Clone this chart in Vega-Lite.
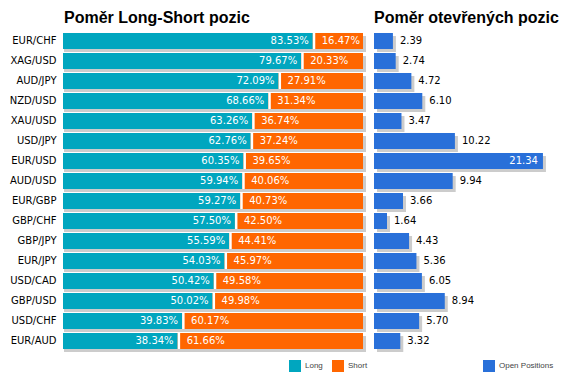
{
  "$schema": "https://vega.github.io/schema/vega-lite/v6.json",
  "padding": {"left": 9, "top": 10, "right": 0, "bottom": 0},
  "bounds": "flush",
  "spacing": 11,
  "background": "white",
  "config": {
    "view": {"stroke": null},
    "font": "DejaVu Sans",
    "title": {"anchor": "start", "frame": "group", "fontSize": 16, "font": "Liberation Sans", "fontWeight": "bold", "color": "#000000", "offset": 5},
    "axis": {"title": null, "ticks": false, "domain": false, "grid": false, "labelFontSize": 10, "labelColor": "#000000", "labelPadding": 8, "labelFont": "DejaVu Sans"},
    "legend": {"title": null, "orient": "none", "direction": "horizontal", "symbolType": "square", "symbolSize": 144, "symbolStrokeWidth": 0, "symbolOpacity": 1, "labelFontSize": 8, "labelFont": "Liberation Sans", "labelColor": "#444444", "labelOffset": 4, "columnPadding": 9, "padding": 0}
  },
  "data": {"values": [
    {"pair": "EUR/CHF", "long": 0.8353, "short": 0.1647, "open": 2.39},
    {"pair": "XAG/USD", "long": 0.7967, "short": 0.2033, "open": 2.74},
    {"pair": "AUD/JPY", "long": 0.7209, "short": 0.2791, "open": 4.72},
    {"pair": "NZD/USD", "long": 0.6866, "short": 0.3134, "open": 6.10},
    {"pair": "XAU/USD", "long": 0.6326, "short": 0.3674, "open": 3.47},
    {"pair": "USD/JPY", "long": 0.6276, "short": 0.3724, "open": 10.22},
    {"pair": "EUR/USD", "long": 0.6035, "short": 0.3965, "open": 21.34},
    {"pair": "AUD/USD", "long": 0.5994, "short": 0.4006, "open": 9.94},
    {"pair": "EUR/GBP", "long": 0.5927, "short": 0.4073, "open": 3.66},
    {"pair": "GBP/CHF", "long": 0.5750, "short": 0.4250, "open": 1.64},
    {"pair": "GBP/JPY", "long": 0.5559, "short": 0.4441, "open": 4.43},
    {"pair": "EUR/JPY", "long": 0.5403, "short": 0.4597, "open": 5.36},
    {"pair": "USD/CAD", "long": 0.5042, "short": 0.4958, "open": 6.05},
    {"pair": "GBP/USD", "long": 0.5002, "short": 0.4998, "open": 8.94},
    {"pair": "USD/CHF", "long": 0.3983, "short": 0.6017, "open": 5.70},
    {"pair": "EUR/AUD", "long": 0.3834, "short": 0.6166, "open": 3.32}
  ]},
  "hconcat": [
    {
      "width": 299,
      "height": {"step": 20},
      "title": {"text": "Poměr Long-Short pozic"},
      "encoding": {
        "y": {"field": "pair", "type": "nominal", "sort": null, "scale": {"paddingInner": 0.2, "paddingOuter": 0.1}}
      },
      "layer": [
        {
          "transform": [{"fold": ["long", "short"], "as": ["side", "share"]}],
          "mark": {"type": "bar", "color": "#cccccc", "xOffset": 3, "x2Offset": 2, "yOffset": 3},
          "encoding": {
            "x": {"aggregate": "sum", "field": "share", "type": "quantitative", "scale": {"domain": [0, 1], "nice": false}, "axis": null}
          }
        },
        {
          "transform": [{"fold": ["long", "short"], "as": ["side", "share"]}],
          "mark": {"type": "bar"},
          "encoding": {
            "x": {"aggregate": "sum", "field": "share", "type": "quantitative"},
            "color": {"datum": "Short", "scale": {"domain": ["Long", "Short"], "range": ["#00a6bf", "#ff6600"]}, "legend": {"legendX": 225, "legendY": 329}}
          }
        },
        {
          "mark": {"type": "bar", "xOffset": -1},
          "encoding": {
            "x": {"field": "long", "type": "quantitative"},
            "color": {"datum": "Long"}
          }
        },
        {
          "mark": {"type": "bar", "color": "#ffffff", "xOffset": -1, "x2Offset": 1.5},
          "encoding": {
            "x": {"field": "long", "type": "quantitative"},
            "x2": {"field": "long"}
          }
        },
        {
          "mark": {"type": "text", "align": "right", "baseline": "middle", "dx": -5, "color": "#ffffff", "fontSize": 10},
          "encoding": {
            "x": {"field": "long", "type": "quantitative"},
            "text": {"field": "long", "format": ".2%"}
          }
        },
        {
          "mark": {"type": "text", "align": "left", "baseline": "middle", "dx": 8, "color": "#ffffff", "fontSize": 10},
          "encoding": {
            "x": {"field": "long", "type": "quantitative"},
            "text": {"field": "short", "format": ".2%"}
          }
        }
      ]
    },
    {
      "width": 190,
      "height": {"step": 20},
      "title": {"text": "Poměr otevřených pozic"},
      "encoding": {
        "y": {"field": "pair", "type": "nominal", "sort": null, "scale": {"paddingInner": 0.2, "paddingOuter": 0.1}, "axis": null}
      },
      "layer": [
        {
          "mark": {"type": "bar", "color": "#cccccc", "xOffset": 3, "x2Offset": 2, "yOffset": 3},
          "encoding": {
            "x": {"field": "open", "type": "quantitative", "scale": {"domain": [0, 24], "nice": false}, "axis": null}
          }
        },
        {
          "mark": {"type": "bar"},
          "encoding": {
            "x": {"field": "open", "type": "quantitative"},
            "color": {"datum": "Open Positions", "scale": {"range": ["#2970d9"]}, "legend": {"legendX": 109, "legendY": 329}}
          }
        },
        {
          "transform": [{"filter": "datum.open < 15"}],
          "mark": {"type": "text", "align": "left", "baseline": "middle", "dx": 7, "color": "#000000", "fontSize": 10},
          "encoding": {
            "x": {"field": "open", "type": "quantitative"},
            "text": {"field": "open", "format": ".2f"}
          }
        },
        {
          "transform": [{"filter": "datum.open >= 15"}],
          "mark": {"type": "text", "align": "right", "baseline": "middle", "dx": -5, "color": "#ffffff", "fontSize": 10},
          "encoding": {
            "x": {"field": "open", "type": "quantitative"},
            "text": {"field": "open", "format": ".2f"}
          }
        }
      ]
    }
  ],
  "resolve": {"scale": {"color": "independent"}, "legend": {"color": "independent"}}
}
